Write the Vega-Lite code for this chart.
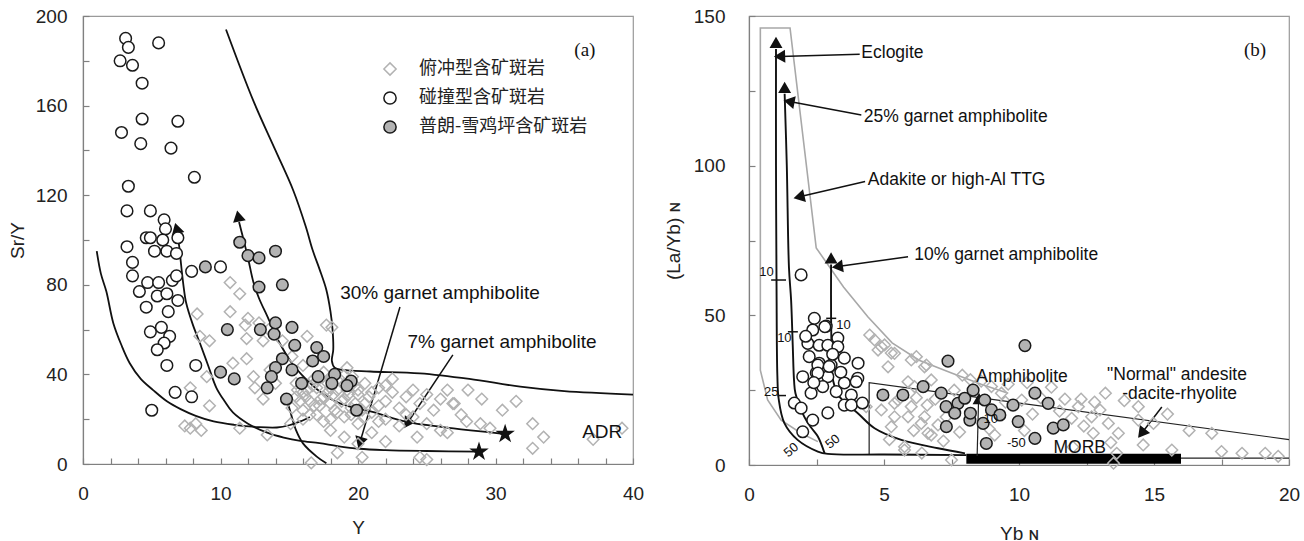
{
"$schema":"https://vega.github.io/schema/vega-lite/v6.json",
"background":"white",
"padding":{"left":7,"top":6,"right":5,"bottom":5},
"config":{
 "view":{"stroke":"#9a9a9a","strokeWidth":1.2},
 "axis":{"labelFont":"Liberation Sans","labelFontSize":19,"labelColor":"#222","titleFont":"Liberation Sans","titleFontSize":19,"titleFontWeight":"normal","titleColor":"#222","domainColor":"#808080","domainWidth":1.2,"tickColor":"#808080","tickWidth":1.2,"tickSize":-6,"grid":false,"labelOverlap":false,"labelFlush":false}
},
"datasets":{
"pts":[
{"p":"a","t":"D","x":10.7,"y":81},{"p":"a","t":"D","x":11.4,"y":76},{"p":"a","t":"D","x":8.3,"y":67},{"p":"a","t":"D","x":10.7,"y":68},{"p":"a","t":"D","x":12,"y":65},{"p":"a","t":"D","x":11.8,"y":62},{"p":"a","t":"D","x":8.5,"y":57},{"p":"a","t":"D","x":9.2,"y":55},{"p":"a","t":"D","x":11.9,"y":56},{"p":"a","t":"D","x":13.1,"y":55},{"p":"a","t":"D","x":11.9,"y":47},{"p":"a","t":"D","x":10.9,"y":45},{"p":"a","t":"D","x":9.0,"y":39},{"p":"a","t":"D","x":12.4,"y":39},{"p":"a","t":"D","x":12.5,"y":34},{"p":"a","t":"D","x":7.8,"y":34},{"p":"a","t":"D","x":9.2,"y":26},{"p":"a","t":"D","x":13.1,"y":29},{"p":"a","t":"D","x":7.4,"y":17},{"p":"a","t":"D","x":7.8,"y":16},{"p":"a","t":"D","x":8.6,"y":15},{"p":"a","t":"D","x":8.2,"y":18},{"p":"a","t":"D","x":11.4,"y":16},{"p":"a","t":"D","x":13.4,"y":13},{"p":"a","t":"D","x":15.1,"y":18},{"p":"a","t":"D","x":16.6,"y":0.5},{"p":"a","t":"D","x":17.7,"y":62},{"p":"a","t":"D","x":16.3,"y":57},{"p":"a","t":"D","x":18.1,"y":61},{"p":"a","t":"D","x":19.2,"y":43},{"p":"a","t":"D","x":12.8,"y":63},{"p":"a","t":"D","x":13.5,"y":60},{"p":"a","t":"D","x":14.5,"y":55},{"p":"a","t":"D","x":15.2,"y":48},{"p":"a","t":"D","x":16,"y":44},{"p":"a","t":"D","x":14,"y":36},{"p":"a","t":"D","x":13.6,"y":42},{"p":"a","t":"D","x":15.5,"y":36},{"p":"a","t":"D","x":16,"y":32},{"p":"a","t":"D","x":16.5,"y":28},{"p":"a","t":"D","x":17,"y":34},{"p":"a","t":"D","x":17.5,"y":30},{"p":"a","t":"D","x":18,"y":27},{"p":"a","t":"D","x":18.5,"y":33},{"p":"a","t":"D","x":19,"y":29},{"p":"a","t":"D","x":19.5,"y":25},{"p":"a","t":"D","x":20,"y":31},{"p":"a","t":"D","x":20.5,"y":27},{"p":"a","t":"D","x":21,"y":23},{"p":"a","t":"D","x":16,"y":24},{"p":"a","t":"D","x":17,"y":22},{"p":"a","t":"D","x":18,"y":20},{"p":"a","t":"D","x":19,"y":21},{"p":"a","t":"D","x":20,"y":18},{"p":"a","t":"D","x":15.8,"y":28},{"p":"a","t":"D","x":16.8,"y":38},{"p":"a","t":"D","x":17.8,"y":36},{"p":"a","t":"D","x":18.8,"y":37},{"p":"a","t":"D","x":19.8,"y":35},{"p":"a","t":"D","x":17.2,"y":26},{"p":"a","t":"D","x":18.2,"y":31},{"p":"a","t":"D","x":19.2,"y":33},{"p":"a","t":"D","x":16.2,"y":30},{"p":"a","t":"D","x":20.8,"y":30},{"p":"a","t":"D","x":21.5,"y":34},{"p":"a","t":"D","x":22,"y":28},{"p":"a","t":"D","x":22.5,"y":32},{"p":"a","t":"D","x":23,"y":25},{"p":"a","t":"D","x":23.5,"y":30},{"p":"a","t":"D","x":24,"y":33},{"p":"a","t":"D","x":24.5,"y":27},{"p":"a","t":"D","x":25,"y":31},{"p":"a","t":"D","x":25.5,"y":24},{"p":"a","t":"D","x":26,"y":29},{"p":"a","t":"D","x":26.5,"y":33},{"p":"a","t":"D","x":27,"y":27},{"p":"a","t":"D","x":27.5,"y":22},{"p":"a","t":"D","x":22,"y":20},{"p":"a","t":"D","x":23,"y":17},{"p":"a","t":"D","x":24,"y":21},{"p":"a","t":"D","x":25,"y":18},{"p":"a","t":"D","x":26,"y":15},{"p":"a","t":"D","x":24.3,"y":12},{"p":"a","t":"D","x":26.5,"y":14},{"p":"a","t":"D","x":26.9,"y":27},{"p":"a","t":"D","x":27.9,"y":19},{"p":"a","t":"D","x":21,"y":14},{"p":"a","t":"D","x":22,"y":10},{"p":"a","t":"D","x":19,"y":12},{"p":"a","t":"D","x":20,"y":9},{"p":"a","t":"D","x":18.5,"y":5},{"p":"a","t":"D","x":20.3,"y":3},{"p":"a","t":"D","x":24.5,"y":3},{"p":"a","t":"D","x":25,"y":2},{"p":"a","t":"D","x":18,"y":15},{"p":"a","t":"D","x":28.9,"y":18},{"p":"a","t":"D","x":29.6,"y":16},{"p":"a","t":"D","x":32.7,"y":18},{"p":"a","t":"D","x":33.5,"y":12},{"p":"a","t":"D","x":32.7,"y":7},{"p":"a","t":"D","x":37.1,"y":11},{"p":"a","t":"D","x":39.2,"y":16},{"p":"a","t":"D","x":29,"y":29},{"p":"a","t":"D","x":30.5,"y":24},{"p":"a","t":"D","x":31.5,"y":28},{"p":"a","t":"D","x":22.5,"y":38},{"p":"a","t":"D","x":28,"y":33},{"p":"a","t":"D","x":17.5,"y":41},{"p":"a","t":"D","x":16.7,"y":35},{"p":"a","t":"D","x":19.6,"y":39},{"p":"a","t":"D","x":21.5,"y":26},{"p":"a","t":"D","x":23.5,"y":22},
{"p":"a","t":"D","x":15.5,"y":30},{"p":"a","t":"D","x":16.3,"y":33},{"p":"a","t":"D","x":16.8,"y":26},{"p":"a","t":"D","x":17.3,"y":29},{"p":"a","t":"D","x":17.8,"y":32},{"p":"a","t":"D","x":18.3,"y":24},{"p":"a","t":"D","x":18.8,"y":28},{"p":"a","t":"D","x":19.3,"y":31},{"p":"a","t":"D","x":19.8,"y":27},{"p":"a","t":"D","x":20.3,"y":24},{"p":"a","t":"D","x":17,"y":37},{"p":"a","t":"D","x":18,"y":38},{"p":"a","t":"D","x":19,"y":39.5},{"p":"a","t":"D","x":20.5,"y":36},{"p":"a","t":"D","x":16.5,"y":22},{"p":"a","t":"D","x":17.5,"y":19},{"p":"a","t":"D","x":18.5,"y":23},{"p":"a","t":"D","x":19.5,"y":22},{"p":"a","t":"D","x":20.5,"y":21},{"p":"a","t":"D","x":21.5,"y":19},{"p":"a","t":"D","x":16,"y":20},{"p":"a","t":"D","x":18,"y":34},{"p":"a","t":"D","x":19,"y":35.5},{"p":"a","t":"D","x":20,"y":33},{"p":"a","t":"D","x":21,"y":32},{"p":"a","t":"D","x":22,"y":35},{"p":"a","t":"D","x":15.6,"y":33},{"p":"a","t":"D","x":15.2,"y":25},
{"p":"b","t":"D","x":4.47,"y":43.4},{"p":"b","t":"D","x":4.65,"y":41.8},{"p":"b","t":"D","x":5.02,"y":40.1},{"p":"b","t":"D","x":4.78,"y":38.4},{"p":"b","t":"D","x":5.27,"y":37.4},{"p":"b","t":"D","x":6.2,"y":36.2},{"p":"b","t":"D","x":6.57,"y":33.4},{"p":"b","t":"D","x":5.89,"y":27.8},{"p":"b","t":"D","x":5.52,"y":21.7},{"p":"b","t":"D","x":5.39,"y":16.1},{"p":"b","t":"D","x":6.01,"y":19.5},{"p":"b","t":"D","x":6.5,"y":16.1},{"p":"b","t":"D","x":7,"y":13.4},{"p":"b","t":"D","x":6.75,"y":10},{"p":"b","t":"D","x":5.76,"y":5},{"p":"b","t":"D","x":4.34,"y":19.5},{"p":"b","t":"D","x":12.2,"y":19.5},{"p":"b","t":"D","x":12.69,"y":16.1},{"p":"b","t":"D","x":11.95,"y":15.6},{"p":"b","t":"D","x":13,"y":18.4},{"p":"b","t":"D","x":13.31,"y":13.9},{"p":"b","t":"D","x":12.75,"y":10.6},{"p":"b","t":"D","x":14.42,"y":15},{"p":"b","t":"D","x":13.68,"y":10.6},{"p":"b","t":"D","x":14.6,"y":6.7},{"p":"b","t":"D","x":15.66,"y":5},{"p":"b","t":"D","x":14.42,"y":19.5},{"p":"b","t":"D","x":14.98,"y":13.9},{"p":"b","t":"D","x":17.14,"y":10.6},{"p":"b","t":"D","x":18.26,"y":3.9},{"p":"b","t":"D","x":19.12,"y":3.9},{"p":"b","t":"D","x":13.62,"y":3.9},{"p":"b","t":"D","x":13.5,"y":0.6},{"p":"b","t":"D","x":4.9,"y":39.5},{"p":"b","t":"D","x":5.39,"y":37.3},{"p":"b","t":"D","x":5.15,"y":32.8},{"p":"b","t":"D","x":6.01,"y":35.1},{"p":"b","t":"D","x":6.5,"y":32.8},{"p":"b","t":"D","x":6.75,"y":28.4},{"p":"b","t":"D","x":6.13,"y":26.2},{"p":"b","t":"D","x":5.39,"y":20.6},{"p":"b","t":"D","x":5.89,"y":16.1},{"p":"b","t":"D","x":6.38,"y":13.9},{"p":"b","t":"D","x":6.63,"y":10.6},{"p":"b","t":"D","x":5.76,"y":6.1},{"p":"b","t":"D","x":7.5,"y":1.7},{"p":"b","t":"D","x":5.27,"y":12.8},{"p":"b","t":"D","x":4.9,"y":18.4},{"p":"b","t":"D","x":8.98,"y":26.2},{"p":"b","t":"D","x":9.35,"y":24},{"p":"b","t":"D","x":10.1,"y":21.7},{"p":"b","t":"D","x":9.6,"y":27},{"p":"b","t":"D","x":10.5,"y":17},{"p":"b","t":"D","x":11.5,"y":18},{"p":"b","t":"D","x":12.3,"y":22},{"p":"b","t":"D","x":11.2,"y":26},{"p":"b","t":"D","x":9.1,"y":10},{"p":"b","t":"D","x":10.2,"y":11.5},{"p":"b","t":"D","x":12,"y":6},{"p":"b","t":"D","x":13.4,"y":7.5},{"p":"b","t":"D","x":8.6,"y":28},{"p":"b","t":"D","x":7.9,"y":30},{"p":"b","t":"D","x":6.9,"y":22},{"p":"b","t":"D","x":6.2,"y":22.5},{"p":"b","t":"D","x":7.2,"y":8},{"p":"b","t":"D","x":19.6,"y":2.9},{"p":"b","t":"D","x":17.5,"y":4.5},{"p":"b","t":"D","x":16.3,"y":11.5},{"p":"b","t":"D","x":13.9,"y":21.5},{"p":"b","t":"D","x":15.5,"y":17},
{"p":"b","t":"D","x":7.6,"y":25},{"p":"b","t":"D","x":8.2,"y":28.5},{"p":"b","t":"D","x":7.8,"y":11},{"p":"b","t":"D","x":8.9,"y":12},{"p":"b","t":"D","x":9.5,"y":21},{"p":"b","t":"D","x":10.8,"y":22.5},{"p":"b","t":"D","x":10.3,"y":27.5},{"p":"b","t":"D","x":11.7,"y":22},{"p":"b","t":"D","x":12.8,"y":21},{"p":"b","t":"D","x":13.2,"y":24},{"p":"b","t":"D","x":12.4,"y":13},{"p":"b","t":"D","x":6.6,"y":20},{"p":"b","t":"D","x":7.3,"y":16},{"p":"b","t":"D","x":6.1,"y":11.5},{"p":"b","t":"D","x":5.2,"y":8.5},{"p":"b","t":"D","x":6.4,"y":4},
{"p":"a","t":"W","x":3.1,"y":190},{"p":"a","t":"W","x":3.3,"y":186},{"p":"a","t":"W","x":2.7,"y":180},{"p":"a","t":"W","x":3.6,"y":178},{"p":"a","t":"W","x":5.5,"y":188},{"p":"a","t":"W","x":4.3,"y":170},{"p":"a","t":"W","x":4.3,"y":154},{"p":"a","t":"W","x":6.9,"y":153},{"p":"a","t":"W","x":2.8,"y":148},{"p":"a","t":"W","x":4.2,"y":143},{"p":"a","t":"W","x":6.4,"y":141},{"p":"a","t":"W","x":8.1,"y":128},{"p":"a","t":"W","x":3.3,"y":124},{"p":"a","t":"W","x":3.2,"y":113},{"p":"a","t":"W","x":4.9,"y":113},{"p":"a","t":"W","x":5.9,"y":109},{"p":"a","t":"W","x":6.0,"y":105},{"p":"a","t":"W","x":4.6,"y":101},{"p":"a","t":"W","x":4.9,"y":101},{"p":"a","t":"W","x":5.8,"y":100},{"p":"a","t":"W","x":6.9,"y":101},{"p":"a","t":"W","x":3.2,"y":97},{"p":"a","t":"W","x":5.2,"y":95},{"p":"a","t":"W","x":6.1,"y":95},{"p":"a","t":"W","x":6.8,"y":94},{"p":"a","t":"W","x":3.6,"y":90},{"p":"a","t":"W","x":3.6,"y":84},{"p":"a","t":"W","x":4.7,"y":81},{"p":"a","t":"W","x":5.5,"y":81},{"p":"a","t":"W","x":6.5,"y":82},{"p":"a","t":"W","x":6.8,"y":84},{"p":"a","t":"W","x":7.9,"y":86},{"p":"a","t":"W","x":10.0,"y":88},{"p":"a","t":"W","x":4.1,"y":77},{"p":"a","t":"W","x":5.4,"y":75},{"p":"a","t":"W","x":6.1,"y":76},{"p":"a","t":"W","x":6.9,"y":73},{"p":"a","t":"W","x":4.6,"y":70},{"p":"a","t":"W","x":6.2,"y":68},{"p":"a","t":"W","x":4.9,"y":59},{"p":"a","t":"W","x":5.7,"y":61},{"p":"a","t":"W","x":6.3,"y":57},{"p":"a","t":"W","x":5.9,"y":54},{"p":"a","t":"W","x":5.4,"y":51},{"p":"a","t":"W","x":6.1,"y":44},{"p":"a","t":"W","x":8.2,"y":44},{"p":"a","t":"W","x":6.7,"y":32},{"p":"a","t":"W","x":7.9,"y":30},{"p":"a","t":"W","x":5.0,"y":24},
{"p":"b","t":"W","x":1.93,"y":63.5},{"p":"b","t":"W","x":2.42,"y":49},{"p":"b","t":"W","x":2.86,"y":46.4},{"p":"b","t":"W","x":2.36,"y":45.1},{"p":"b","t":"W","x":2.18,"y":40.6},{"p":"b","t":"W","x":2.6,"y":40},{"p":"b","t":"W","x":2.92,"y":40},{"p":"b","t":"W","x":3.29,"y":42.4},{"p":"b","t":"W","x":3.29,"y":39.5},{"p":"b","t":"W","x":2.23,"y":36.2},{"p":"b","t":"W","x":2.6,"y":34},{"p":"b","t":"W","x":3.04,"y":33.4},{"p":"b","t":"W","x":3.53,"y":35.7},{"p":"b","t":"W","x":4.04,"y":34},{"p":"b","t":"W","x":1.99,"y":29.5},{"p":"b","t":"W","x":2.49,"y":30.8},{"p":"b","t":"W","x":2.92,"y":29.5},{"p":"b","t":"W","x":4.03,"y":29},{"p":"b","t":"W","x":2.73,"y":26.2},{"p":"b","t":"W","x":3.23,"y":24.5},{"p":"b","t":"W","x":3.53,"y":27.4},{"p":"b","t":"W","x":3.97,"y":27.8},{"p":"b","t":"W","x":3.79,"y":23.4},{"p":"b","t":"W","x":1.68,"y":20.7},{"p":"b","t":"W","x":1.93,"y":19},{"p":"b","t":"W","x":2.3,"y":24},{"p":"b","t":"W","x":3.53,"y":20},{"p":"b","t":"W","x":3.79,"y":20},{"p":"b","t":"W","x":4.2,"y":20.7},{"p":"b","t":"W","x":2.36,"y":15},{"p":"b","t":"W","x":2.92,"y":17.4},{"p":"b","t":"W","x":1.99,"y":11.1},{"p":"b","t":"W","x":2.55,"y":33.4},{"p":"b","t":"W","x":2.97,"y":32.9},{"p":"b","t":"W","x":2.55,"y":30.7},{"p":"b","t":"W","x":2.81,"y":46.2},{"p":"b","t":"W","x":2.1,"y":43},{"p":"b","t":"W","x":3.1,"y":37},{"p":"b","t":"W","x":2.4,"y":27.5},{"p":"b","t":"W","x":3.4,"y":31},
{"p":"a","t":"G","x":8.9,"y":88},{"p":"a","t":"G","x":11.4,"y":99},{"p":"a","t":"G","x":12.0,"y":93},{"p":"a","t":"G","x":12.8,"y":92},{"p":"a","t":"G","x":14.0,"y":95},{"p":"a","t":"G","x":12.8,"y":79},{"p":"a","t":"G","x":14.5,"y":80},{"p":"a","t":"G","x":10.5,"y":60},{"p":"a","t":"G","x":12.9,"y":60},{"p":"a","t":"G","x":13.9,"y":58},{"p":"a","t":"G","x":14.0,"y":63},{"p":"a","t":"G","x":15.2,"y":61},{"p":"a","t":"G","x":15.4,"y":53},{"p":"a","t":"G","x":14.5,"y":47},{"p":"a","t":"G","x":14.0,"y":43},{"p":"a","t":"G","x":15.2,"y":42},{"p":"a","t":"G","x":13.7,"y":39},{"p":"a","t":"G","x":13.4,"y":34},{"p":"a","t":"G","x":14.8,"y":29},{"p":"a","t":"G","x":15.9,"y":36},{"p":"a","t":"G","x":17.0,"y":52},{"p":"a","t":"G","x":17.5,"y":48},{"p":"a","t":"G","x":16.7,"y":46},{"p":"a","t":"G","x":17.1,"y":39},{"p":"a","t":"G","x":18.3,"y":40},{"p":"a","t":"G","x":19.5,"y":37},{"p":"a","t":"G","x":19.2,"y":35},{"p":"a","t":"G","x":18.1,"y":36},{"p":"a","t":"G","x":19.9,"y":24},{"p":"a","t":"G","x":10.0,"y":41},{"p":"a","t":"G","x":11.0,"y":38},
{"p":"b","t":"G","x":4.96,"y":23.4},{"p":"b","t":"G","x":5.7,"y":23.4},{"p":"b","t":"G","x":6.45,"y":26.2},{"p":"b","t":"G","x":7.37,"y":34.7},{"p":"b","t":"G","x":7.12,"y":24},{"p":"b","t":"G","x":7.3,"y":19.5},{"p":"b","t":"G","x":7.74,"y":20.6},{"p":"b","t":"G","x":7.62,"y":17.3},{"p":"b","t":"G","x":7.31,"y":12.8},{"p":"b","t":"G","x":7.99,"y":22.3},{"p":"b","t":"G","x":10.22,"y":39.9},{"p":"b","t":"G","x":8.3,"y":25},{"p":"b","t":"G","x":8.18,"y":15},{"p":"b","t":"G","x":8.73,"y":21.7},{"p":"b","t":"G","x":8.98,"y":18.4},{"p":"b","t":"G","x":8.67,"y":13.9},{"p":"b","t":"G","x":8.79,"y":7.2},{"p":"b","t":"G","x":9.29,"y":16.7},{"p":"b","t":"G","x":9.78,"y":20},{"p":"b","t":"G","x":9.97,"y":14.5},{"p":"b","t":"G","x":10.59,"y":24},{"p":"b","t":"G","x":11.08,"y":20.6},{"p":"b","t":"G","x":10.59,"y":8.9},{"p":"b","t":"G","x":11.27,"y":12.3},{"p":"b","t":"G","x":11.64,"y":13.4},{"p":"b","t":"G","x":8.2,"y":17.3}
],
"curves":[
{"p":"a","id":"A","k":"c","o":1,"x":1.0,"y":95},{"p":"a","id":"A","k":"c","o":2,"x":1.3,"y":85},{"p":"a","id":"A","k":"c","o":3,"x":1.7,"y":77},{"p":"a","id":"A","k":"c","o":4,"x":2.2,"y":63},{"p":"a","id":"A","k":"c","o":5,"x":2.8,"y":53},{"p":"a","id":"A","k":"c","o":6,"x":3.4,"y":45},{"p":"a","id":"A","k":"c","o":7,"x":4.2,"y":38},{"p":"a","id":"A","k":"c","o":8,"x":5.1,"y":33},{"p":"a","id":"A","k":"c","o":9,"x":6.1,"y":28},{"p":"a","id":"A","k":"c","o":10,"x":7.1,"y":24.5},{"p":"a","id":"A","k":"c","o":11,"x":8.2,"y":21.5},{"p":"a","id":"A","k":"c","o":12,"x":9.5,"y":19},{"p":"a","id":"A","k":"c","o":13,"x":11,"y":17.5},{"p":"a","id":"A","k":"c","o":14,"x":12.7,"y":16.5},{"p":"a","id":"A","k":"c","o":15,"x":14.1,"y":16.3},{"p":"a","id":"A","k":"c","o":16,"x":15,"y":17.3},{"p":"a","id":"A","k":"c","o":17,"x":15.8,"y":19},{"p":"a","id":"A","k":"c","o":18,"x":16.5,"y":21},
{"p":"a","id":"B","k":"c","o":1,"x":6.85,"y":103},{"p":"a","id":"B","k":"c","o":2,"x":7.0,"y":97},{"p":"a","id":"B","k":"c","o":3,"x":7.1,"y":91},{"p":"a","id":"B","k":"c","o":4,"x":7.3,"y":80},{"p":"a","id":"B","k":"c","o":5,"x":7.5,"y":72},{"p":"a","id":"B","k":"c","o":6,"x":8.0,"y":62},{"p":"a","id":"B","k":"c","o":7,"x":8.5,"y":54},{"p":"a","id":"B","k":"c","o":8,"x":9.1,"y":44},{"p":"a","id":"B","k":"c","o":9,"x":9.7,"y":34},{"p":"a","id":"B","k":"c","o":10,"x":10.3,"y":28},{"p":"a","id":"B","k":"c","o":11,"x":10.9,"y":23},{"p":"a","id":"B","k":"c","o":12,"x":12,"y":18},{"p":"a","id":"B","k":"c","o":13,"x":13.4,"y":14},{"p":"a","id":"B","k":"c","o":14,"x":14.6,"y":11.8},{"p":"a","id":"B","k":"c","o":15,"x":15.8,"y":10.3},{"p":"a","id":"B","k":"c","o":16,"x":17.2,"y":9.3},{"p":"a","id":"B","k":"c","o":17,"x":18.5,"y":8},{"p":"a","id":"B","k":"c","o":18,"x":20.1,"y":6.8},{"p":"a","id":"B","k":"c","o":19,"x":22,"y":6.2},{"p":"a","id":"B","k":"c","o":20,"x":25,"y":5.8},{"p":"a","id":"B","k":"c","o":21,"x":28.8,"y":5.5},
{"p":"a","id":"C","k":"c","o":1,"x":11.35,"y":108},{"p":"a","id":"C","k":"c","o":2,"x":11.6,"y":102},{"p":"a","id":"C","k":"c","o":3,"x":12,"y":92},{"p":"a","id":"C","k":"c","o":4,"x":12.4,"y":81},{"p":"a","id":"C","k":"c","o":5,"x":12.8,"y":74},{"p":"a","id":"C","k":"c","o":6,"x":13.4,"y":66},{"p":"a","id":"C","k":"c","o":7,"x":14.3,"y":54},{"p":"a","id":"C","k":"c","o":8,"x":15.2,"y":45},{"p":"a","id":"C","k":"c","o":9,"x":16.2,"y":38},{"p":"a","id":"C","k":"c","o":10,"x":17.3,"y":32},{"p":"a","id":"C","k":"c","o":11,"x":18.5,"y":27.5},{"p":"a","id":"C","k":"c","o":12,"x":19.8,"y":25},{"p":"a","id":"C","k":"c","o":13,"x":21.2,"y":23},{"p":"a","id":"C","k":"c","o":14,"x":22.5,"y":20.5},{"p":"a","id":"C","k":"c","o":15,"x":23.8,"y":18.5},{"p":"a","id":"C","k":"c","o":16,"x":25.5,"y":17},{"p":"a","id":"C","k":"c","o":17,"x":27.5,"y":15.5},{"p":"a","id":"C","k":"c","o":18,"x":29.5,"y":14.2},{"p":"a","id":"C","k":"c","o":19,"x":30.7,"y":13.4},
{"p":"a","id":"D","k":"c","o":1,"x":10.4,"y":194},{"p":"a","id":"D","k":"c","o":2,"x":12.4,"y":162},{"p":"a","id":"D","k":"c","o":3,"x":14,"y":140},{"p":"a","id":"D","k":"c","o":4,"x":15.3,"y":122},{"p":"a","id":"D","k":"c","o":5,"x":16.2,"y":106},{"p":"a","id":"D","k":"c","o":6,"x":16.7,"y":95.5},{"p":"a","id":"D","k":"c","o":7,"x":17.2,"y":87},{"p":"a","id":"D","k":"c","o":8,"x":17.7,"y":77.7},{"p":"a","id":"D","k":"c","o":9,"x":18,"y":68},{"p":"a","id":"D","k":"c","o":10,"x":18.15,"y":60},{"p":"a","id":"D","k":"c","o":11,"x":18.2,"y":51},{"p":"a","id":"D","k":"c","o":12,"x":18.1,"y":46},{"p":"a","id":"D","k":"c","o":13,"x":18.3,"y":43},{"p":"a","id":"D","k":"c","o":14,"x":18.9,"y":42},{"p":"a","id":"D","k":"c","o":15,"x":20.9,"y":41.3},{"p":"a","id":"D","k":"c","o":16,"x":24.5,"y":40.5},{"p":"a","id":"D","k":"c","o":17,"x":28.1,"y":38},{"p":"a","id":"D","k":"c","o":18,"x":31.8,"y":34.5},{"p":"a","id":"D","k":"c","o":19,"x":35,"y":32.5},{"p":"a","id":"D","k":"c","o":20,"x":40,"y":31},
{"p":"a","id":"E","k":"c","o":1,"x":14.9,"y":27},{"p":"a","id":"E","k":"c","o":2,"x":15.05,"y":24},{"p":"a","id":"E","k":"c","o":3,"x":15.5,"y":15},{"p":"a","id":"E","k":"c","o":4,"x":16,"y":9.2},{"p":"a","id":"E","k":"c","o":5,"x":17,"y":3.3},{"p":"a","id":"E","k":"c","o":6,"x":17.7,"y":0.3},
{"p":"b","id":"R1","k":"c","o":1,"x":1.0,"y":139},{"p":"b","id":"R1","k":"c","o":2,"x":1.0,"y":100},{"p":"b","id":"R1","k":"c","o":3,"x":1.02,"y":60},{"p":"b","id":"R1","k":"c","o":4,"x":1.05,"y":30},{"p":"b","id":"R1","k":"c","o":5,"x":1.1,"y":22},{"p":"b","id":"R1","k":"c","o":6,"x":1.31,"y":14},{"p":"b","id":"R1","k":"c","o":7,"x":1.8,"y":8.4},{"p":"b","id":"R1","k":"c","o":8,"x":2.55,"y":4.5},{"p":"b","id":"R1","k":"c","o":9,"x":2.92,"y":3.7},{"p":"b","id":"R1","k":"c","o":10,"x":5,"y":3.5},{"p":"b","id":"R1","k":"c","o":11,"x":8.05,"y":3.3},
{"p":"b","id":"R2","k":"c","o":1,"x":1.32,"y":124},{"p":"b","id":"R2","k":"c","o":2,"x":1.4,"y":100},{"p":"b","id":"R2","k":"c","o":3,"x":1.48,"y":66},{"p":"b","id":"R2","k":"c","o":4,"x":1.56,"y":55},{"p":"b","id":"R2","k":"c","o":5,"x":1.62,"y":40},{"p":"b","id":"R2","k":"c","o":6,"x":1.67,"y":28},{"p":"b","id":"R2","k":"c","o":7,"x":1.72,"y":24},{"p":"b","id":"R2","k":"c","o":8,"x":2.05,"y":16.1},{"p":"b","id":"R2","k":"c","o":9,"x":2.3,"y":12.5},{"p":"b","id":"R2","k":"c","o":10,"x":2.55,"y":9.5},{"p":"b","id":"R2","k":"c","o":11,"x":2.8,"y":3.9},
{"p":"b","id":"R3","k":"c","o":1,"x":3.04,"y":67},{"p":"b","id":"R3","k":"c","o":2,"x":3.04,"y":49.5},{"p":"b","id":"R3","k":"c","o":3,"x":3.07,"y":35},{"p":"b","id":"R3","k":"c","o":4,"x":3.12,"y":28},{"p":"b","id":"R3","k":"c","o":5,"x":3.3,"y":23.5},{"p":"b","id":"R3","k":"c","o":6,"x":3.6,"y":20.5},{"p":"b","id":"R3","k":"c","o":7,"x":4.03,"y":17.3},{"p":"b","id":"R3","k":"c","o":8,"x":4.65,"y":12.3},{"p":"b","id":"R3","k":"c","o":9,"x":5.64,"y":8.4},{"p":"b","id":"R3","k":"c","o":10,"x":7,"y":5.6},{"p":"b","id":"R3","k":"c","o":11,"x":8,"y":3.9},
{"p":"b","id":"R4","k":"t","o":1,"x":8.45,"y":3},{"p":"b","id":"R4","k":"t","o":2,"x":8.5,"y":21},
{"p":"b","id":"T1","k":"t","o":1,"x":4.45,"y":3.3},{"p":"b","id":"T1","k":"t","o":2,"x":4.45,"y":27.5},{"p":"b","id":"T1","k":"t","o":3,"x":20,"y":8.5},
{"p":"b","id":"T2","k":"t","o":1,"x":16,"y":2.3},{"p":"b","id":"T2","k":"t","o":2,"x":20,"y":2.3},
{"p":"b","id":"G1","k":"g","o":1,"x":2.55,"y":7.8},{"p":"b","id":"G1","k":"g","o":2,"x":1.93,"y":10.6},{"p":"b","id":"G1","k":"g","o":3,"x":1.19,"y":15},{"p":"b","id":"G1","k":"g","o":4,"x":0.69,"y":21.7},{"p":"b","id":"G1","k":"g","o":5,"x":0.42,"y":31.7},{"p":"b","id":"G1","k":"g","o":6,"x":0.42,"y":146},{"p":"b","id":"G1","k":"g","o":7,"x":1.52,"y":146},{"p":"b","id":"G1","k":"g","o":8,"x":2.49,"y":72.5},{"p":"b","id":"G1","k":"g","o":9,"x":3.5,"y":59.5},{"p":"b","id":"G1","k":"g","o":10,"x":4.4,"y":49.5},{"p":"b","id":"G1","k":"g","o":11,"x":5.3,"y":40.8},{"p":"b","id":"G1","k":"g","o":12,"x":6.3,"y":35},{"p":"b","id":"G1","k":"g","o":13,"x":7.5,"y":30.7},{"p":"b","id":"G1","k":"g","o":14,"x":8.6,"y":27},{"p":"b","id":"G1","k":"g","o":15,"x":9.6,"y":24}
],
"segs":[
{"p":"a","k":"arrow","x":23.05,"y":70.1,"x2":20.15,"y2":9.8},{"p":"a","k":"arrow","x":26.9,"y":48.7,"x2":23.6,"y2":18.3},
{"p":"b","k":"arrow","x":4.1,"y":137.2,"x2":1.15,"y2":136.5},{"p":"b","k":"arrow","x":4.16,"y":116.9,"x2":1.5,"y2":121.4},{"p":"b","k":"arrow","x":4.3,"y":94.7,"x2":1.87,"y2":89.6},{"p":"b","k":"arrow","x":5.89,"y":69.6,"x2":3.29,"y2":66.3},{"p":"b","k":"arrow","x":15.29,"y":19.4,"x2":14.55,"y2":10.7},
{"p":"b","k":"tick","x":0.82,"y":61.8,"x2":1.37,"y2":61.8},{"p":"b","k":"tick","x":1.44,"y":44.5,"x2":1.81,"y2":44.5},{"p":"b","k":"tick","x":2.86,"y":49,"x2":3.23,"y2":49},{"p":"b","k":"tick","x":1.06,"y":23.2,"x2":1.37,"y2":23.2}
],
"heads":[
{"p":"a","x":20.15,"y":9.8,"a":197},{"p":"a","x":23.6,"y":18.3,"a":213},{"p":"a","x":6.82,"y":105,"a":345},{"p":"a","x":11.3,"y":110.5,"a":348},
{"p":"b","x":1.15,"y":136.5,"a":268},{"p":"b","x":1.5,"y":121.4,"a":281},{"p":"b","x":1.87,"y":89.6,"a":257},{"p":"b","x":3.29,"y":66.3,"a":262},{"p":"b","x":14.55,"y":10.7,"a":218},{"p":"b","x":1.0,"y":141,"a":0},{"p":"b","x":1.32,"y":126,"a":0},{"p":"b","x":3.04,"y":69,"a":0},{"p":"b","x":8.52,"y":22,"a":0}
],
"stars":[{"p":"a","x":28.8,"y":5.5},{"p":"a","x":30.7,"y":13.4}],
"bars":[{"p":"b","x":8.05,"x2":16,"y":0.4,"y2":3.8}],
"texts":[
{"p":"a","k":"note","x":18.7,"y":76.3,"s":"30% garnet  amphibolite"},{"p":"a","k":"note","x":23.6,"y":54.6,"s":"7% garnet  amphibolite"},{"p":"a","k":"note","x":36.3,"y":14.4,"s":"ADR"},
{"p":"a","k":"tag","x":36.5,"y":184.8,"s":"(a)"},
{"p":"b","k":"note","x":4.16,"y":137.6,"s":"Eclogite"},{"p":"b","k":"note","x":4.25,"y":116.3,"s":"25% garnet amphibolite"},{"p":"b","k":"note","x":4.4,"y":95.2,"s":"Adakite or high-Al TTG"},{"p":"b","k":"note","x":6.12,"y":70,"s":"10% garnet amphibolite"},{"p":"b","k":"note","x":8.42,"y":29.4,"s":"Amphibolite"},
{"p":"b","k":"noteC","x":15.85,"y":30,"s":"\"Normal\" andesite"},{"p":"b","k":"noteC","x":15.95,"y":23.6,"s":"-dacite-rhyolite"},{"p":"b","k":"noteC","x":12.25,"y":5.6,"s":"MORB"},
{"p":"b","k":"tag","x":18.74,"y":138.6,"s":"(b)"},
{"p":"b","k":"small","x":0.65,"y":64.5,"s":"10"},{"p":"b","k":"small","x":1.31,"y":42.3,"s":"10"},{"p":"b","k":"small","x":3.5,"y":46.8,"s":"10"},{"p":"b","k":"small","x":0.82,"y":24.5,"s":"25"},{"p":"b","k":"small","x":9.9,"y":7.2,"s":"-50"},{"p":"b","k":"small","x":8.95,"y":15.4,"s":"10"},
{"p":"b","k":"rot","x":1.56,"y":5,"s":"50"},{"p":"b","k":"rot","x":3.1,"y":7.8,"s":"50"}
]
},
"spacing":18,
"resolve":{"scale":{"shape":"independent","fill":"independent","stroke":"independent"}},
"hconcat":[
{
 "width":550,"height":448,
 "encoding":{
  "x":{"field":"x","type":"quantitative","scale":{"domain":[0,40],"nice":false,"zero":false},"axis":{"title":"Y","values":[0,2,4,6,8,10,12,14,16,18,20,22,24,26,28,30,32,34,36,38,40],"labelExpr":"datum.value % 10 == 0 ? datum.label : ''","labelPadding":26,"titlePadding":15}},
  "y":{"field":"y","type":"quantitative","scale":{"domain":[0,200],"nice":false,"zero":false},"axis":{"title":"Sr/Y","values":[0,20,40,60,80,100,120,140,160,180,200],"labelExpr":"datum.value % 40 == 0 ? datum.label : ''","labelPadding":22,"titlePadding":8}}
 },
 "layer":[
  {"data":{"name":"curves"},"transform":[{"filter":"datum.p=='a' && datum.k=='c'"}],"mark":{"type":"line","stroke":"#111","strokeWidth":1.8,"interpolate":"catmull-rom"},"encoding":{"detail":{"field":"id"},"order":{"field":"o","type":"quantitative"}}},
  {"data":{"name":"segs"},"transform":[{"filter":"datum.p=='a'"}],"mark":{"type":"rule","stroke":"#111","strokeWidth":1.5},"encoding":{"x2":{"field":"x2"},"y2":{"field":"y2"}}},
  {"data":{"name":"heads"},"transform":[{"filter":"datum.p=='a'"}],"mark":{"type":"point","shape":"triangle-up","filled":true,"fill":"#111","stroke":"#111","size":90,"opacity":1},"encoding":{"angle":{"field":"a","type":"quantitative","scale":null}}},
  {"data":{"name":"stars"},"transform":[{"filter":"datum.p=='a'"}],"mark":{"type":"point","shape":"M0,-1L0.2245,-0.309L0.951,-0.309L0.363,0.118L0.588,0.809L0,0.382L-0.588,0.809L-0.363,0.118L-0.951,-0.309L-0.2245,-0.309Z","filled":true,"fill":"#111","size":420,"opacity":1}},
  {"data":{"name":"pts"},"transform":[{"filter":"datum.p=='a'"}],"mark":{"type":"point","filled":true,"strokeWidth":1.5,"size":135,"opacity":1},
   "encoding":{
    "shape":{"field":"t","type":"nominal","scale":{"domain":["D","W","G"],"range":["diamond","circle","circle"]},"legend":{"orient":"none","legendX":298,"legendY":44,"title":null,"labelFont":"Noto Sans CJK SC","labelFontSize":18,"labelColor":"#222","labelLimit":400,"symbolSize":150,"symbolStrokeWidth":1.5,"rowPadding":9,"labelOffset":20,"padding":0,"labelExpr":"datum.label == 'D' ? '俯冲型含矿斑岩' : datum.label == 'W' ? '碰撞型含矿斑岩' : '普朗-雪鸡坪含矿斑岩'"}},
    "fill":{"field":"t","type":"nominal","scale":{"domain":["D","W","G"],"range":["rgba(255,255,255,0)","#ffffff","#b3b3b3"]},"legend":{"orient":"none","legendX":298,"legendY":44,"title":null,"labelFont":"Noto Sans CJK SC","labelFontSize":18,"labelColor":"#222","labelLimit":400,"symbolSize":150,"symbolStrokeWidth":1.5,"rowPadding":9,"labelOffset":20,"padding":0,"labelExpr":"datum.label == 'D' ? '俯冲型含矿斑岩' : datum.label == 'W' ? '碰撞型含矿斑岩' : '普朗-雪鸡坪含矿斑岩'"}},
    "stroke":{"field":"t","type":"nominal","scale":{"domain":["D","W","G"],"range":["#b2b2b2","#1a1a1a","#1a1a1a"]},"legend":{"orient":"none","legendX":298,"legendY":44,"title":null,"labelFont":"Noto Sans CJK SC","labelFontSize":18,"labelColor":"#222","labelLimit":400,"symbolSize":150,"symbolStrokeWidth":1.5,"rowPadding":9,"labelOffset":20,"padding":0,"labelExpr":"datum.label == 'D' ? '俯冲型含矿斑岩' : datum.label == 'W' ? '碰撞型含矿斑岩' : '普朗-雪鸡坪含矿斑岩'"}}
   }},
  {"data":{"name":"texts"},"transform":[{"filter":"datum.p=='a' && datum.k=='note'"}],"mark":{"type":"text","font":"Liberation Sans","fontSize":19,"align":"left","baseline":"middle","fill":"#111"},"encoding":{"text":{"field":"s"}}},
  {"data":{"name":"texts"},"transform":[{"filter":"datum.p=='a' && datum.k=='tag'"}],"mark":{"type":"text","font":"Liberation Serif","fontSize":19,"align":"center","baseline":"middle","fill":"#111"},"encoding":{"text":{"field":"s"}}}
 ]
},
{
 "width":540,"height":449,
 "encoding":{
  "x":{"field":"x","type":"quantitative","scale":{"domain":[0,20],"nice":false,"zero":false},"axis":{"title":"Yb ɴ","values":[0,2.5,5,7.5,10,12.5,15,17.5,20],"labelExpr":"datum.value % 5 == 0 ? datum.label : ''","labelPadding":26,"titlePadding":20}},
  "y":{"field":"y","type":"quantitative","scale":{"domain":[0,150],"nice":false,"zero":false},"axis":{"title":"(La/Yb) ɴ","values":[0,25,50,75,100,125,150],"labelExpr":"datum.value % 50 == 0 ? datum.label : ''","labelPadding":30,"titlePadding":10}}
 },
 "layer":[
  {"data":{"name":"curves"},"transform":[{"filter":"datum.p=='b' && datum.k=='g'"}],"mark":{"type":"line","stroke":"#a8a8a8","strokeWidth":1.6,"interpolate":"linear"},"encoding":{"detail":{"field":"id"},"order":{"field":"o","type":"quantitative"}}},
  {"data":{"name":"bars"},"mark":{"type":"rect","fill":"#000"},"encoding":{"x2":{"field":"x2"},"y2":{"field":"y2"}}},
  {"data":{"name":"curves"},"transform":[{"filter":"datum.p=='b' && datum.k=='t'"}],"mark":{"type":"line","stroke":"#222","strokeWidth":1.2,"interpolate":"linear"},"encoding":{"detail":{"field":"id"},"order":{"field":"o","type":"quantitative"}}},
  {"data":{"name":"curves"},"transform":[{"filter":"datum.p=='b' && datum.k=='c'"}],"mark":{"type":"line","stroke":"#111","strokeWidth":1.9,"interpolate":"catmull-rom"},"encoding":{"detail":{"field":"id"},"order":{"field":"o","type":"quantitative"}}},
  {"data":{"name":"segs"},"transform":[{"filter":"datum.p=='b'"}],"mark":{"type":"rule","stroke":"#111","strokeWidth":1.5},"encoding":{"x2":{"field":"x2"},"y2":{"field":"y2"}}},
  {"data":{"name":"heads"},"transform":[{"filter":"datum.p=='b'"}],"mark":{"type":"point","shape":"triangle-up","filled":true,"fill":"#111","stroke":"#111","size":90,"opacity":1},"encoding":{"angle":{"field":"a","type":"quantitative","scale":null}}},
  {"data":{"name":"pts"},"transform":[{"filter":"datum.p=='b'"}],"mark":{"type":"point","filled":true,"strokeWidth":1.5,"size":135,"opacity":1},
   "encoding":{
    "shape":{"field":"t","type":"nominal","scale":{"domain":["D","W","G"],"range":["diamond","circle","circle"]},"legend":null},
    "fill":{"field":"t","type":"nominal","scale":{"domain":["D","W","G"],"range":["rgba(255,255,255,0)","#ffffff","#b3b3b3"]},"legend":null},
    "stroke":{"field":"t","type":"nominal","scale":{"domain":["D","W","G"],"range":["#b2b2b2","#1a1a1a","#1a1a1a"]},"legend":null}
   }},
  {"data":{"name":"texts"},"transform":[{"filter":"datum.p=='b' && datum.k=='note'"}],"mark":{"type":"text","font":"Liberation Sans","fontSize":17.5,"align":"left","baseline":"middle","fill":"#111"},"encoding":{"text":{"field":"s"}}},
  {"data":{"name":"texts"},"transform":[{"filter":"datum.p=='b' && datum.k=='noteC'"}],"mark":{"type":"text","font":"Liberation Sans","fontSize":17.5,"align":"center","baseline":"middle","fill":"#111"},"encoding":{"text":{"field":"s"}}},
  {"data":{"name":"texts"},"transform":[{"filter":"datum.p=='b' && datum.k=='small'"}],"mark":{"type":"text","font":"Liberation Sans","fontSize":13,"align":"center","baseline":"middle","fill":"#111"},"encoding":{"text":{"field":"s"}}},
  {"data":{"name":"texts"},"transform":[{"filter":"datum.p=='b' && datum.k=='rot'"}],"mark":{"type":"text","font":"Liberation Sans","fontSize":13,"align":"center","baseline":"middle","angle":320,"fill":"#111"},"encoding":{"text":{"field":"s"}}},
  {"data":{"name":"texts"},"transform":[{"filter":"datum.p=='b' && datum.k=='tag'"}],"mark":{"type":"text","font":"Liberation Serif","fontSize":19,"align":"center","baseline":"middle","fill":"#111"},"encoding":{"text":{"field":"s"}}}
 ]
}
]
}
